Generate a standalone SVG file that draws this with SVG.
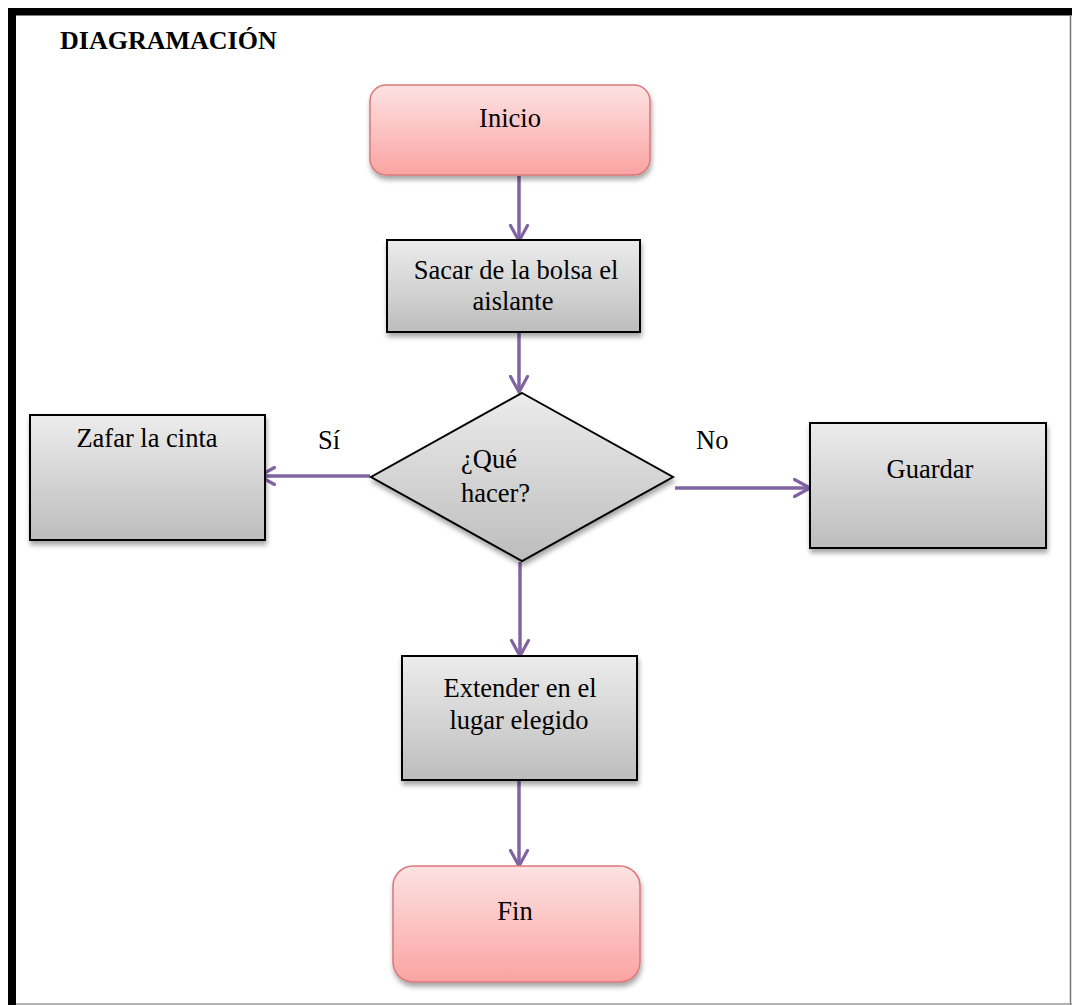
<svg xmlns="http://www.w3.org/2000/svg" width="1072" height="1005" viewBox="0 0 1072 1005">
<defs>
<linearGradient id="gGray" x1="0" y1="0" x2="0" y2="1">
<stop offset="0" stop-color="#ececec"/>
<stop offset="1" stop-color="#bdbdbd"/>
</linearGradient>
<linearGradient id="gPink" x1="0" y1="0" x2="0" y2="1">
<stop offset="0" stop-color="#fde2e2"/>
<stop offset="1" stop-color="#fba3a3"/>
</linearGradient>
<filter id="sh" x="-10%" y="-10%" width="125%" height="130%">
<feDropShadow dx="1" dy="4" stdDeviation="2.5" flood-color="#000" flood-opacity="0.35"/>
</filter>
<marker id="ah" viewBox="0 0 20 20" refX="17" refY="10" markerWidth="20" markerHeight="20" markerUnits="userSpaceOnUse" orient="auto">
<path d="M1.5,1.5 L17,10 L1.5,18.5" fill="none" stroke="#8064a2" stroke-width="3.2" stroke-linecap="round" stroke-linejoin="round"/>
</marker>
</defs>
<style>
text{font-family:"Liberation Serif","Times New Roman",serif;font-size:26.5px;fill:#000}
.c{text-anchor:middle}
.box{fill:url(#gGray);stroke:#000;stroke-width:2;filter:url(#sh)}
.term{fill:url(#gPink);stroke:#d9787a;stroke-width:1.5;filter:url(#sh)}
.conn{stroke:#8064a2;stroke-width:3.5;fill:none;marker-end:url(#ah)}
.title{font-weight:bold;font-size:26px}
</style>
<rect x="0" y="0" width="1072" height="1005" fill="#fff"/>
<g id="frame">
<rect x="8" y="8" width="1064" height="7.5" fill="#000"/>
<rect x="8" y="8" width="8" height="997" fill="#000"/>
<line x1="1070.5" y1="15" x2="1070.5" y2="1005" stroke="#777" stroke-width="1.5"/>
<line x1="16" y1="1004" x2="1072" y2="1004" stroke="#999" stroke-width="1.5"/>
</g>
<g id="title"><text class="title" x="60" y="49">DIAGRAMACIÓN</text></g>
<g id="connectors">
<line class="conn" x1="519" y1="176" x2="519" y2="241"/>
<line class="conn" x1="519" y1="333" x2="519" y2="392"/>
<line class="conn" x1="370" y1="476" x2="259" y2="476"/>
<line class="conn" x1="675" y1="488" x2="810" y2="488"/>
<line class="conn" x1="520" y1="562" x2="520" y2="656"/>
<line class="conn" x1="519" y1="781" x2="519" y2="866"/>
</g>
<g id="label-si"><text x="318" y="449">Sí</text></g>
<g id="label-no"><text x="696" y="449">No</text></g>
<g id="inicio">
<rect class="term" x="370" y="85" width="280" height="90" rx="16"/>
<text class="c" x="510" y="127">Inicio</text>
</g>
<g id="sacar">
<rect class="box" x="387" y="240" width="253" height="92"/>
<text class="c" x="516" y="279">Sacar de la bolsa el</text>
<text class="c" x="513" y="310">aislante</text>
</g>
<g id="decision">
<polygon class="box" points="522,393 673,477 522,561 371,477"/>
<text x="461" y="468">¿Qué</text>
<text x="461" y="502">hacer?</text>
</g>
<g id="zafar">
<rect class="box" x="30" y="415" width="235" height="125"/>
<text class="c" x="147" y="447">Zafar la cinta</text>
</g>
<g id="guardar">
<rect class="box" x="810" y="423" width="236" height="125"/>
<text class="c" x="930" y="478">Guardar</text>
</g>
<g id="extender">
<rect class="box" x="402" y="656" width="235" height="124"/>
<text class="c" x="520" y="697">Extender en el</text>
<text class="c" x="519" y="729">lugar elegido</text>
</g>
<g id="fin">
<rect class="term" x="393" y="866" width="247" height="116" rx="20"/>
<text class="c" x="515" y="920">Fin</text>
</g>
</svg>
